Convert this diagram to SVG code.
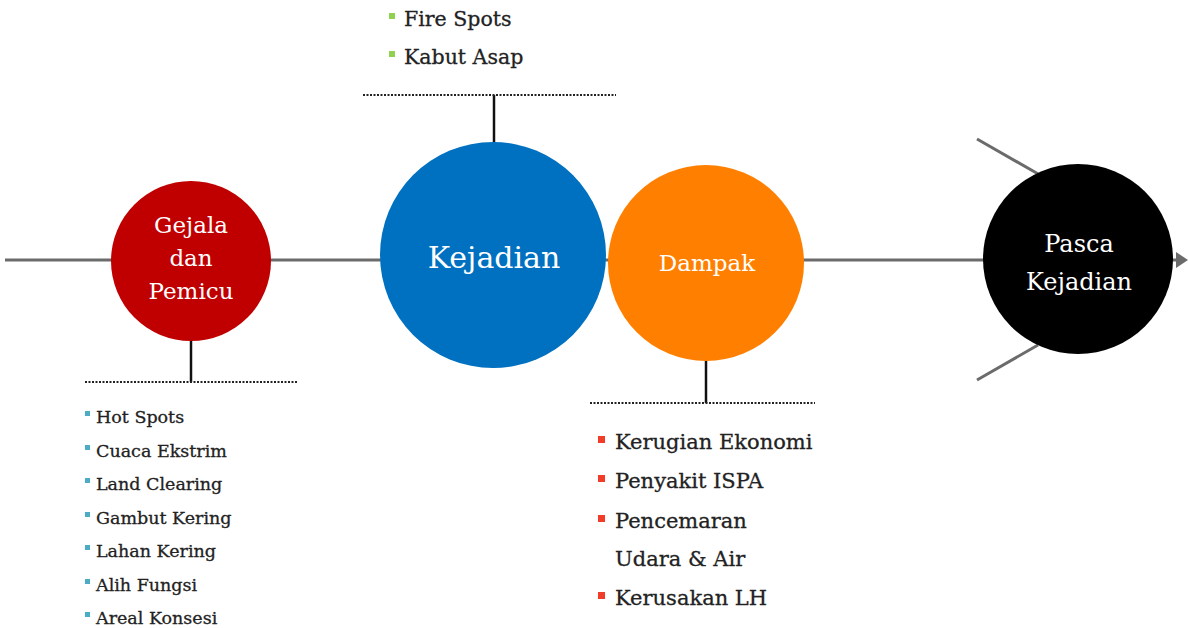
<svg xmlns="http://www.w3.org/2000/svg" width="1188" height="628" viewBox="0 0 1188 628">
<style>
.ln{stroke:#6b6b6b;stroke-width:3;fill:none}
.stem{stroke:#111;stroke-width:2.5}
.dot{stroke:#222;stroke-width:2;stroke-dasharray:2 1.5}
.t{font-family:"DejaVu Serif","Liberation Serif",serif;fill:#222;stroke:#222;stroke-width:0.3}
.w{font-family:"DejaVu Serif","Liberation Serif",serif;fill:#fff;text-anchor:middle}
</style>
<rect width="1188" height="628" fill="#fff"/>
<g id="connectors">
<line class="ln" x1="5" y1="260" x2="1178" y2="260"/>
<polygon points="1176,252 1188,260 1176,268" fill="#6b6b6b"/>
<line class="ln" x1="977" y1="139" x2="1040" y2="175"/>
<line class="ln" x1="977" y1="380" x2="1038" y2="345"/>
<line class="stem" x1="191" y1="335" x2="191" y2="382"/>
<line class="dot" x1="85" y1="382" x2="297" y2="382"/>
<line class="stem" x1="494" y1="150" x2="494" y2="95"/>
<line class="dot" x1="363" y1="95" x2="616" y2="95"/>
<line class="stem" x1="706" y1="355" x2="706" y2="403"/>
<line class="dot" x1="590" y1="403" x2="815" y2="403"/>
</g>
<g id="gejala">
<circle cx="191" cy="261" r="80" fill="#c00000"/>
<text class="w" x="191" y="233" font-size="23">Gejala</text>
<text class="w" x="191" y="266" font-size="23">dan</text>
<text class="w" x="191" y="299" font-size="23">Pemicu</text>
</g>
<g id="kejadian">
<circle cx="493" cy="255" r="113" fill="#0070c0"/>
<text class="w" x="494" y="268" font-size="30">Kejadian</text>
</g>
<g id="dampak">
<circle cx="706" cy="263" r="98" fill="#ff8000"/>
<text class="w" x="707" y="271" font-size="23">Dampak</text>
</g>
<g id="pasca">
<circle cx="1078" cy="259" r="95" fill="#000"/>
<text class="w" x="1079" y="252" font-size="24">Pasca</text>
<text class="w" x="1079" y="290" font-size="24">Kejadian</text>
</g>
<g id="list-gejala" font-size="17.5">
<rect x="85" y="411" width="5" height="5" fill="#4bacc6"/><text class="t" x="96" y="423">Hot Spots</text>
<rect x="85" y="445" width="5" height="5" fill="#4bacc6"/><text class="t" x="96" y="457">Cuaca Ekstrim</text>
<rect x="85" y="478" width="5" height="5" fill="#4bacc6"/><text class="t" x="96" y="490">Land Clearing</text>
<rect x="85" y="512" width="5" height="5" fill="#4bacc6"/><text class="t" x="96" y="524">Gambut Kering</text>
<rect x="85" y="545" width="5" height="5" fill="#4bacc6"/><text class="t" x="96" y="557">Lahan Kering</text>
<rect x="85" y="579" width="5" height="5" fill="#4bacc6"/><text class="t" x="96" y="591">Alih Fungsi</text>
<rect x="85" y="612" width="5" height="5" fill="#4bacc6"/><text class="t" x="96" y="624">Areal Konsesi</text>
</g>
<g id="list-kejadian" font-size="20.5">
<rect x="389" y="13" width="6" height="6" fill="#92d050"/><text class="t" x="404" y="26">Fire Spots</text>
<rect x="389" y="51" width="6" height="6" fill="#92d050"/><text class="t" x="404" y="64">Kabut Asap</text>
</g>
<g id="list-dampak" font-size="21">
<rect x="598" y="436" width="7" height="7" fill="#f03c28"/><text class="t" x="615" y="449">Kerugian Ekonomi</text>
<rect x="598" y="475" width="7" height="7" fill="#f03c28"/><text class="t" x="615" y="488">Penyakit ISPA</text>
<rect x="598" y="515" width="7" height="7" fill="#f03c28"/><text class="t" x="615" y="528">Pencemaran</text>
<text class="t" x="615" y="566">Udara &amp; Air</text>
<rect x="598" y="592" width="7" height="7" fill="#f03c28"/><text class="t" x="615" y="605">Kerusakan LH</text>
</g>
</svg>
